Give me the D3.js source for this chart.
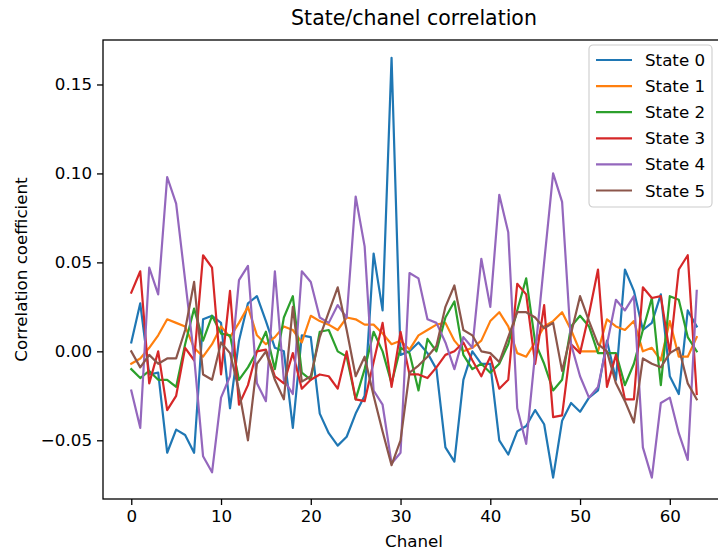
<!DOCTYPE html>
<html>
<head>
<meta charset="utf-8">
<script src="https://cdn.jsdelivr.net/npm/d3@7"></script>
<style>
  body { margin: 0; background: white; }
  text { font-family: "DejaVu Sans", sans-serif; fill: #000; }
</style>
</head>
<body>
<svg id="chart" width="718" height="554"></svg>
<script>
const width = 718
const height = 554
const colors = ['#1f77b4', '#ff7f0e', '#2ca02c', '#d62728', '#9467bd', '#8c564b']

const stateNames = ['State 0', 'State 1', 'State 2', 'State 3', 'State 4', 'State 5']
const xTicks = [0, 10, 20, 30, 40, 50, 60]
const yTicks = [-0.05, 0.00, 0.05, 0.10, 0.15]

const state0 = [0.005, 0.027, -0.013, -0.012, -0.057, -0.044, -0.047, -0.057, 0.018, 0.020,
    0.016, -0.032, 0.006, 0.027, 0.031, 0.017, 0.002, 0.000, -0.043, 0.009,
    0.008, -0.035, -0.046, -0.053, -0.048, -0.035, -0.025, 0.055, 0.023, 0.165,
    -0.002, 0.000, 0.005, -0.001, -0.010, -0.054, -0.062, -0.016, 0.000, -0.007,
    -0.007, -0.050, -0.058, -0.045, -0.042, -0.033, -0.041, -0.071, -0.039, -0.029,
    -0.034, -0.026, -0.022, 0.006, -0.016, 0.046, 0.034, 0.012, 0.016, 0.032,
    -0.014, -0.024, 0.023, 0.014]
const state1 = [-0.007, -0.004, 0.002, 0.009, 0.018, 0.016, 0.014, 0.002, -0.003, 0.004,
    0.014, 0.008, 0.016, 0.025, 0.009, 0.004, 0.008, 0.014, 0.012, 0.005,
    0.020, 0.017, 0.015, 0.012, 0.019, 0.018, 0.015, 0.015, 0.010, 0.004,
    0.006, 0.001, 0.009, 0.012, 0.015, 0.016, 0.006, 0.000, 0.002, 0.006,
    0.017, 0.022, 0.014, -0.001, -0.003, 0.005, 0.014, 0.017, 0.022, 0.012,
    0.000, 0.000, 0.000, 0.018, 0.014, 0.012, 0.017, 0.000, 0.002, -0.005,
    0.017, -0.003, -0.003, 0.008]
const state2 = [-0.010, -0.015, -0.011, -0.016, -0.016, -0.020, 0.004, 0.024, 0.006, 0.020,
    0.010, 0.009, -0.016, -0.009, 0.000, 0.011, -0.010, 0.019, 0.031, -0.012,
    -0.016, 0.011, 0.012, 0.000, -0.003, -0.027, -0.010, 0.011, 0.000, -0.018,
    0.002, -0.001, -0.022, 0.007, 0.000, 0.019, 0.028, -0.002, -0.010, -0.007,
    -0.012, -0.007, 0.004, 0.023, 0.041, 0.005, -0.007, -0.022, -0.016, 0.014,
    0.020, 0.014, -0.001, -0.001, -0.001, -0.019, -0.007, 0.012, 0.030, -0.019,
    0.031, 0.029, 0.008, 0.000]
const state3 = [0.033, 0.045, -0.018, 0.000, -0.033, -0.025, 0.002, -0.005, 0.054, 0.047,
    -0.013, 0.034, -0.030, -0.019, 0.000, 0.001, -0.014, -0.018, -0.001, -0.021,
    -0.016, -0.013, -0.014, -0.021, 0.000, -0.027, -0.028, -0.006, 0.016, -0.020,
    0.011, -0.013, -0.013, -0.015, -0.009, -0.002, 0.000, 0.005, -0.005, -0.014,
    -0.003, -0.021, -0.016, 0.038, 0.032, -0.007, 0.026, -0.037, -0.036, 0.004,
    -0.001, 0.021, 0.046, -0.020, -0.002, -0.027, -0.027, 0.036, 0.030, 0.031,
    -0.001, 0.046, 0.054, -0.024]
const state4 = [-0.022, -0.043, 0.047, 0.032, 0.098, 0.083, 0.040, -0.003, -0.059, -0.068,
    -0.026, -0.014, 0.040, 0.048, -0.018, -0.028, 0.045, -0.016, -0.024, 0.045,
    0.039, 0.019, 0.016, 0.026, 0.019, 0.087, 0.059, -0.022, -0.030, -0.063,
    -0.057, 0.044, 0.041, 0.018, 0.016, 0.005, -0.010, 0.008, 0.002, 0.052,
    0.025, 0.088, 0.067, -0.032, -0.052, -0.001, 0.050, 0.100, 0.084, 0.004,
    -0.014, -0.026, -0.020, 0.004, 0.029, 0.023, 0.031, -0.054, -0.071, -0.029,
    -0.026, -0.046, -0.061, 0.034]
const state5 = [0.000, -0.009, -0.002, -0.007, -0.004, -0.004, 0.012, 0.039, -0.013, -0.016,
    0.005, -0.001, -0.022, -0.050, -0.007, 0.000, -0.016, -0.027, 0.025, -0.017,
    -0.014, 0.008, 0.022, 0.036, 0.012, -0.014, -0.003, -0.025, -0.045, -0.064,
    -0.050, -0.012, -0.008, -0.003, 0.003, 0.025, 0.037, 0.012, 0.009, 0.000,
    -0.001, -0.006, 0.008, 0.022, 0.022, 0.019, 0.013, 0.016, -0.011, 0.010,
    0.031, 0.017, 0.004, 0.000, -0.018, -0.028, -0.040, -0.004, -0.007, -0.009,
    -0.001, 0.002, -0.018, -0.027]
const series = [state0, state1, state2, state3, state4, state5]

const plotLeft = 103, plotRight = 725, plotTop = 40, plotBottom = 499

let svg = d3.select('#chart')
svg.append('rect')
    .attr('width', width)
    .attr('height', height)
    .style('fill', 'white')

let x = d3.scaleLinear().domain([-3.15, 66.15]).range([plotLeft, plotRight])
let y = d3.scaleLinear().domain([-0.083, 0.175]).range([plotBottom, plotTop])

let line = d3.line()
    .x((_, i) => x(i))
    .y(d => y(d))

svg.append('g')
    .selectAll('path')
    .data(series)
    .enter()
    .append('path')
    .attr('d', line)
    .style('fill', 'none')
    .style('stroke', (_, i) => colors[i])
    .style('stroke-width', 2.2)
    .style('stroke-linejoin', 'round')
    .style('stroke-linecap', 'square')

// frame
svg.append('rect')
    .attr('x', plotLeft)
    .attr('y', plotTop)
    .attr('width', plotRight - plotLeft)
    .attr('height', plotBottom - plotTop)
    .style('fill', 'none')
    .style('stroke', 'black')
    .style('stroke-width', 1.3)

let xAxis = svg.append('g')
    .attr('transform', `translate(0,${plotBottom})`)
    .call(d3.axisBottom(x).tickValues(xTicks).tickFormat(d3.format('d')).tickSize(6).tickPadding(5))
let yAxis = svg.append('g')
    .attr('transform', `translate(${plotLeft},0)`)
    .call(d3.axisLeft(y).tickValues(yTicks).tickFormat(d3.format('.2f')).tickSize(6).tickPadding(5))
for (let ax of [xAxis, yAxis]) {
    ax.select('.domain').remove()
    ax.selectAll('line').style('stroke', 'black').style('stroke-width', 1.3)
    ax.selectAll('text').style('font-family', '"DejaVu Sans"').style('font-size', '16.7px')
}

svg.append('text')
    .attr('x', (plotLeft + plotRight) / 2)
    .attr('y', 25)
    .attr('text-anchor', 'middle')
    .style('font-size', '20.5px')
    .text('State/chanel correlation')
svg.append('text')
    .attr('x', (plotLeft + plotRight) / 2)
    .attr('y', 547)
    .attr('text-anchor', 'middle')
    .style('font-size', '16.7px')
    .text('Chanel')
svg.append('text')
    .attr('transform', `translate(27,${(plotTop + plotBottom) / 2}) rotate(-90)`)
    .attr('text-anchor', 'middle')
    .style('font-size', '16.7px')
    .text('Correlation coefficient')

// legend
let legend = svg.append('g').attr('transform', 'translate(589,45)')
legend.append('rect')
    .attr('width', 123)
    .attr('height', 162)
    .attr('rx', 4)
    .style('fill', 'white')
    .style('fill-opacity', 0.8)
    .style('stroke', '#cccccc')
    .style('stroke-width', 1.1)
let items = legend.selectAll('.item')
    .data(stateNames)
    .enter()
    .append('g')
    .attr('class', 'item')
    .attr('transform', (_, i) => `translate(0,${15 + i * 26.1})`)
items.append('line')
    .attr('x1', 7)
    .attr('x2', 43)
    .style('stroke', (_, i) => colors[i])
    .style('stroke-width', 2.2)
items.append('text')
    .attr('x', 56)
    .attr('y', 6)
    .style('font-size', '16.7px')
    .text(d => d)
</script>
</body>
</html>
